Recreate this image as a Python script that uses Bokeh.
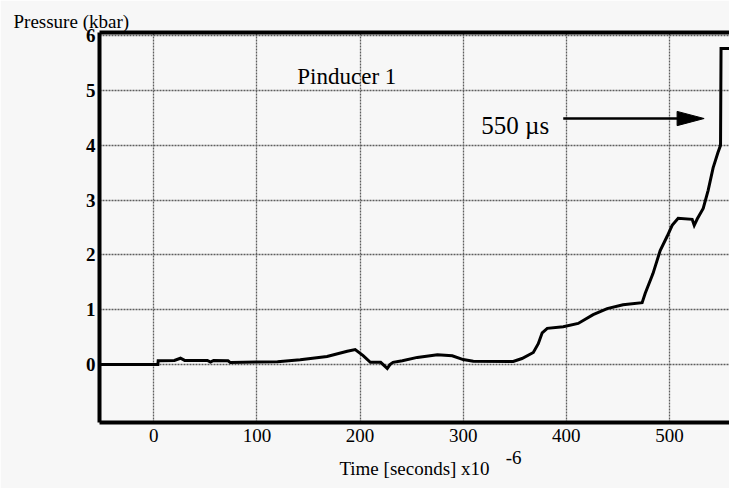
from bokeh.plotting import figure
from bokeh.models import Range1d, LinearAxis, Label, FixedTicker, Title
from bokeh.embed import file_html
from bokeh.resources import INLINE

# Pinducer 1 pressure trace (time in microseconds, pressure in kbar)
time_us = [-60, 4.0, 4.3, 20, 25.9, 30, 52, 55, 58, 72, 74.3, 100, 120, 142, 168,
           187.6, 195.3, 203, 210, 220, 226.4, 229, 232, 241, 255.5, 275, 289.4,
           300, 309.8, 348.5, 357, 368, 372.8, 376.6, 381.5, 397, 411.5, 426,
           439.6, 455, 473.5, 476.5, 484, 491, 498, 502.6, 508.4, 522, 524, 527,
           532.7, 537.5, 542.3, 547, 549.5, 550, 570]
pressure_kbar = [0.0, 0.0, 0.07, 0.075, 0.115, 0.075, 0.075, 0.045, 0.075, 0.07, 0.036,
                 0.045, 0.05, 0.086, 0.146, 0.243, 0.274, 0.164, 0.04, 0.04, -0.07,
                 0.0, 0.04, 0.07, 0.13, 0.18, 0.16, 0.09, 0.06, 0.055, 0.11, 0.22,
                 0.38, 0.58, 0.66, 0.69, 0.75, 0.91, 1.02, 1.09, 1.13, 1.30, 1.66,
                 2.08, 2.35, 2.54, 2.67, 2.65, 2.54, 2.66, 2.85, 3.18, 3.59, 3.87,
                 4.0, 5.77, 5.77]

x_ticks = [0, 100, 200, 300, 400, 500]
y_ticks = [0, 1, 2, 3, 4, 5, 6]
exponent_pos = 349  # where the "-6" exponent sits along the time axis

BG = "#f7f7f7"
SERIF = "Liberation Serif"

p = figure(width=729, height=488, output_backend="svg", toolbar_location=None,
           title=None,
           x_range=Range1d(-52.6, 558.2), y_range=Range1d(-1.058, 6.06),
           min_border_left=99, min_border_right=0, min_border_top=32,
           min_border_bottom=66)
p.background_fill_color = BG
p.border_fill_color = BG
p.outline_line_color = None

# axes: thick frame lines, labels only
for ax in (p.xaxis[0], p.yaxis[0]):
    ax.axis_line_width = 4
    ax.axis_line_color = "black"
    ax.major_tick_line_color = None
    ax.minor_tick_line_color = None
    ax.major_tick_out = 0
    ax.major_tick_in = 0
    ax.minor_tick_out = 0
    ax.major_label_text_font = SERIF
    ax.major_label_text_font_size = "19px"
    ax.major_label_text_color = "black"

p.xaxis.ticker = FixedTicker(ticks=x_ticks)
p.xaxis.major_label_standoff = 6
p.xaxis.axis_label = "Time [seconds] x10"
p.xaxis.axis_label_text_font = SERIF
p.xaxis.axis_label_text_font_size = "19px"
p.xaxis.axis_label_text_font_style = "normal"
p.xaxis.axis_label_text_color = "black"
p.xaxis.axis_label_standoff = 13

p.yaxis.ticker = FixedTicker(ticks=y_ticks)
p.yaxis.major_label_standoff = 4
p.yaxis.major_label_text_font_style = "bold"

# exponent of the time unit, raised beside the axis title
exp_axis = LinearAxis(ticker=FixedTicker(ticks=[exponent_pos]),
                      major_label_overrides={exponent_pos: "-6"},
                      axis_line_color=None, major_tick_line_color=None,
                      minor_tick_line_color=None, major_tick_out=0,
                      major_tick_in=0, minor_tick_out=0,
                      major_label_standoff=-31,
                      major_label_text_font=SERIF,
                      major_label_text_font_size="19px",
                      major_label_text_color="black")
p.add_layout(exp_axis, "below")

# top frame line
top = LinearAxis(ticker=FixedTicker(ticks=[]), axis_line_width=4,
                 axis_line_color="black", major_tick_line_color=None,
                 minor_tick_line_color=None, major_tick_out=0, major_tick_in=0,
                 minor_tick_out=0, major_label_standoff=0,
                 major_label_text_font_size="0px")
p.add_layout(top, "above")

# y-axis title, written horizontally above the axis
p.add_layout(Title(text="Pressure (kbar)", align="left", offset=-86, standoff=2,
                   text_font=SERIF, text_font_size="19px",
                   text_font_style="normal", text_color="black"), "above")

# dotted grid
p.xgrid.ticker = FixedTicker(ticks=x_ticks)
p.ygrid.ticker = FixedTicker(ticks=y_ticks)
for g in (p.xgrid[0], p.ygrid[0]):
    g.grid_line_color = "#5e5e5e"
    g.grid_line_width = 1.3
    g.grid_line_dash = "2 1"

p.line(time_us, pressure_kbar, line_color="black", line_width=3,
       line_join="miter")

# annotation: marker for 550 microseconds
arrow_y = 4.49
arrow_start, arrow_tip = 397.0, 533.6
head_len, head_half = 26.2, 0.13
p.line([arrow_start, arrow_tip - head_len + 2], [arrow_y, arrow_y],
       line_color="black", line_width=2.5)
p.patch([arrow_tip - head_len, arrow_tip, arrow_tip - head_len],
        [arrow_y + head_half, arrow_y, arrow_y - head_half],
        fill_color="black", line_color="black", line_width=1)

p.add_layout(Label(x=317.5, y=4.36, text="550 µs", text_font=SERIF,
                   text_font_size="25px", text_color="black",
                   text_baseline="alphabetic"))
p.add_layout(Label(x=139.2, y=5.25, text="Pinducer 1", text_font=SERIF,
                   text_font_size="23px", text_color="black",
                   text_baseline="alphabetic"))

open("out.html", "w").write(file_html(p, INLINE))
